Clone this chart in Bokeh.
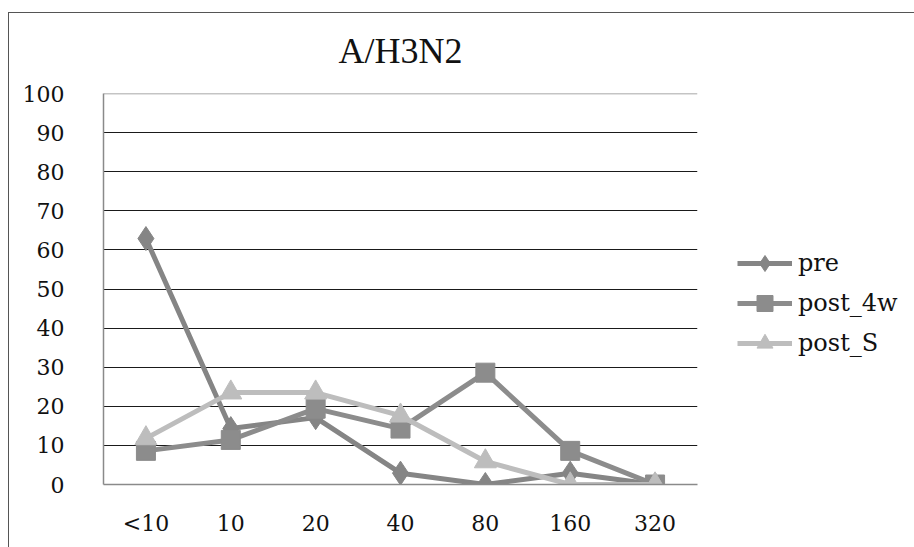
from bokeh.plotting import figure
from bokeh.layouts import column
from bokeh.models import (Legend, LegendItem, Span, FixedTicker, FactorRange, Range1d)
from bokeh.embed import file_html
from bokeh.resources import INLINE

title = "A/H3N2"
categories = ["<10", "10", "20", "40", "80", "160", "320"]
pre = [62.9, 14.3, 17.1, 2.9, 0.0, 2.9, 0.0]
post_4w = [8.6, 11.4, 19.4, 14.3, 28.6, 8.6, 0.0]
post_S = [11.8, 23.5, 23.5, 17.6, 5.9, 0.0, 0.0]
y_ticks = [0, 10, 20, 30, 40, 50, 60, 70, 80, 90, 100]

series = [
    ("pre", pre, "#858585", "diamond", 24),
    ("post_4w", post_4w, "#8c8c8c", "square", 19),
    ("post_S", post_S, "#bdbdbd", "triangle", 22),
]

FONT = "DejaVu Serif"

p = figure(
    frame_width=594, frame_height=391,
    x_range=FactorRange(*categories, range_padding=0),
    y_range=Range1d(0, 100),
    output_backend="svg", toolbar_location=None,
    min_border_left=94, min_border_right=0,
    min_border_top=90, min_border_bottom=63,
    styles={"margin-top": "-10px"},
)
p.outline_line_color = None
p.background_fill_color = "white"
p.border_fill_alpha = 0

p.title.text = title
p.title.align = "center"
p.title.text_font = "Liberation Serif"
p.title.text_font_size = "36px"
p.title.text_font_style = "normal"
p.title.text_color = "#111111"
p.title.standoff = 46

# axes
p.yaxis.ticker = FixedTicker(ticks=y_ticks)
for ax in (p.xaxis[0], p.yaxis[0]):
    ax.axis_line_color = "#8a8a8a"
    ax.axis_line_width = 1.5
    ax.major_tick_line_color = None
    ax.minor_tick_line_color = None
    ax.major_label_text_font = FONT
    ax.major_label_text_font_size = "22px"
    ax.major_label_text_color = "#111111"
p.yaxis.major_label_standoff = 33
p.xaxis.major_label_standoff = 20

p.xgrid.grid_line_color = None
p.ygrid.ticker = FixedTicker(ticks=y_ticks[1:-1])
p.ygrid.grid_line_color = "#1a1a1a"
p.ygrid.grid_line_width = 1
p.add_layout(Span(location=100, dimension="width", line_color="#8a8a8a", line_width=1.5))

items = []
for name, vals, color, marker, size in series:
    r_line = p.line(categories, vals, line_color=color, line_width=5)
    r_pts = p.scatter(categories, vals, marker=marker, size=size,
                      fill_color=color, line_color=color)
    items.append(LegendItem(label=name, renderers=[r_line, r_pts]))

legend = Legend(items=items, location=(40, 121),
                label_text_font=FONT, label_text_font_size="24px",
                label_text_color="#111111",
                glyph_width=55, glyph_height=40, spacing=0,
                label_standoff=6, padding=0, margin=0,
                border_line_color=None, background_fill_alpha=0)
p.add_layout(legend, "right")

layout = column(p, styles={"margin-left": "8px", "margin-top": "12px",
                           "border-left": "1px solid #555555",
                           "border-top": "1px solid #555555"})

open("out.html", "w").write(file_html(layout, INLINE))
